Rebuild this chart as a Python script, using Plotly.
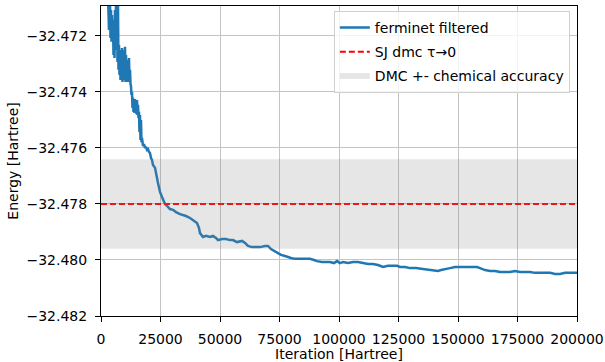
import plotly.graph_objects as go

# ---- data ----
iteration = [
    2100, 2940, 3360, 3780, 3990, 4200, 4410, 4620, 4830, 5040, 5250, 5460, 5670, 5880, 6090,
    6300, 6510, 6720, 6930, 7140, 7350, 7560, 7770, 7980, 8190, 8400, 8610, 8820, 9030, 9240,
    9450, 9660, 9870, 10080, 10290, 10500, 10710, 10920, 11130, 11340, 11550, 11760, 11970,
    12180, 12390, 12600, 12810, 13020, 13230, 13440, 13650, 13860, 14070, 14280, 14490, 14700,
    14910, 15120, 15330, 15540, 15750, 15960, 16170, 16380, 16590, 16800, 17010, 17220, 17650,
    18070, 18490, 18910, 19330, 19750, 20170, 20590, 21010, 21430, 21850,
    22690, 23950, 24790, 25630, 26890, 27730, 28990, 30250, 31510, 33200, 34460, 35720, 37400,
    38660, 40340, 41180, 41600, 42860, 44120, 45800, 47060, 48320, 49160, 50840, 52520, 54210,
    55470, 57150, 58410, 59250, 60510, 61770, 63450, 65130, 66810, 68910, 70170, 71430, 72690,
    73960, 75640, 77320, 78160, 79840, 81520, 83620, 85720, 87820, 89500, 90760, 92860, 94540,
    96230, 97910, 99170, 100430, 101690, 103790, 105890, 107990, 110090, 112190, 114290,
    116400, 118500, 120600, 122700, 124380, 125640, 127740, 129840, 132360, 135300, 138240,
    140350, 141610, 142870, 144550, 146650, 148750, 150850, 152950, 155050, 157990, 159260,
    161360, 163460, 165560, 167660, 169760, 171860, 173960, 176060, 178160, 180260, 182370,
    184470, 186570, 188670, 190770, 192870, 194970, 197070, 200000,
]
energy = [
    -32.46929, -32.47054, -32.47179, -32.47079, -32.47207, -32.47107, -32.47221, -32.47125,
    -32.47196, -32.47161, -32.47268, -32.47143, -32.47279, -32.47107, -32.47250, -32.47071,
    -32.47214, -32.47054, -32.47293, -32.47089, -32.47321, -32.47232, -32.47339, -32.47250,
    -32.47357, -32.47268, -32.47350, -32.47243, -32.47364, -32.47286, -32.47357, -32.47250,
    -32.47350, -32.47239, -32.47364, -32.47268, -32.47357, -32.47286, -32.47364, -32.47293,
    -32.47350, -32.47279, -32.47364, -32.47321, -32.47371, -32.47379, -32.47411, -32.47400,
    -32.47457, -32.47421, -32.47471, -32.47429, -32.47475, -32.47425, -32.47471, -32.47436,
    -32.47479, -32.47429, -32.47482, -32.47446, -32.47493, -32.47471, -32.47543, -32.47482,
    -32.47571, -32.47500, -32.47579, -32.47564, -32.47593, -32.47586, -32.47600, -32.47596,
    -32.47607, -32.47604, -32.47614, -32.47618, -32.47636, -32.47643, -32.47661,
    -32.47671, -32.47725, -32.47757, -32.47775, -32.47800, -32.47807, -32.47818, -32.47821,
    -32.47829, -32.47836, -32.47839, -32.47843, -32.47850, -32.47857, -32.47868, -32.47886,
    -32.47904, -32.47918, -32.47914, -32.47918, -32.47914, -32.47921, -32.47929, -32.47925,
    -32.47925, -32.47929, -32.47929, -32.47936, -32.47932, -32.47932, -32.47939, -32.47950,
    -32.47954, -32.47954, -32.47954, -32.47950, -32.47950, -32.47961, -32.47968, -32.47975,
    -32.47982, -32.47986, -32.47989, -32.47993, -32.47996, -32.47996, -32.47996, -32.47996,
    -32.48000, -32.48004, -32.48007, -32.48007, -32.48007, -32.48011, -32.48004, -32.48011,
    -32.48007, -32.48011, -32.48007, -32.48007, -32.48011, -32.48014, -32.48014, -32.48018,
    -32.48025, -32.48021, -32.48021, -32.48021, -32.48025, -32.48025, -32.48029, -32.48029,
    -32.48032, -32.48036, -32.48039, -32.48039, -32.48036, -32.48032, -32.48029, -32.48025,
    -32.48025, -32.48025, -32.48025, -32.48025, -32.48029, -32.48036, -32.48039, -32.48039,
    -32.48043, -32.48043, -32.48043, -32.48039, -32.48043, -32.48043, -32.48043, -32.48046,
    -32.48046, -32.48046, -32.48046, -32.48050, -32.48050, -32.48046, -32.48046, -32.48046,
]

dmc_energy = -32.478
chem_accuracy = 0.0016
x_span = [0, 200000]

x_ticks = [0, 25000, 50000, 75000, 100000, 125000, 150000, 175000, 200000]
x_tick_labels = ["0", "25000", "50000", "75000", "100000", "125000", "150000", "175000", "200000"]
y_ticks = [-32.482, -32.480, -32.478, -32.476, -32.474, -32.472]
y_tick_labels = ["\u221232.482", "\u221232.480", "\u221232.478", "\u221232.476", "\u221232.474", "\u221232.472"]

FONT = "DejaVu Sans"
FS = 14

fig = go.Figure()

fig.add_trace(go.Scatter(
    x=iteration, y=energy, mode="lines", name="ferminet filtered", legendgroup="a",
    line=dict(color="#1f77b4", width=2.5),
))
fig.add_trace(go.Scatter(
    x=x_span, y=[dmc_energy, dmc_energy], mode="lines", name="SJ dmc \u03c4\u21920", legendgroup="b",
    line=dict(color="#ff0000", width=2, dash="6px,3px"),
))
fig.add_trace(go.Scatter(
    x=[x_span[0], x_span[1], x_span[1], x_span[0], x_span[0]],
    y=[dmc_energy - chem_accuracy, dmc_energy - chem_accuracy,
       dmc_energy + chem_accuracy, dmc_energy + chem_accuracy, dmc_energy - chem_accuracy],
    mode="none", fill="toself", fillcolor="rgba(128,128,128,0.2)",
    name="DMC +- chemical accuracy", legendgroup="c",
))

axis_common = dict(
    showline=True, mirror=True, linecolor="black", linewidth=1,
    ticks="outside", ticklen=5, tickcolor="black", tickwidth=1,
    showgrid=True, gridcolor="#c4c4c4", gridwidth=1, zeroline=False,
    tickfont=dict(family=FONT, size=FS, color="black"), automargin=False,
)

fig.update_layout(
    width=605, height=362,
    margin=dict(l=101, r=28, t=6, b=46),
    paper_bgcolor="white", plot_bgcolor="white",
    font=dict(family=FONT, size=FS, color="black"),
    showlegend=True,
    legend=dict(
        x=0.985, y=0.984, xanchor="right", yanchor="top",
        bgcolor="rgba(255,255,255,0.8)", bordercolor="#d0d0d0", borderwidth=1,
        font=dict(family=FONT, size=FS), itemwidth=30, tracegroupgap=3,
    ),
    xaxis=dict(
        range=x_span, tickvals=x_ticks, ticktext=x_tick_labels, ticklabelstandoff=5,
        title=dict(text="Iteration [Hartree]", font=dict(family=FONT, size=FS), standoff=0),
        **axis_common,
    ),
    yaxis=dict(
        range=[-32.482, -32.47093], tickvals=y_ticks, ticktext=y_tick_labels, ticklabelstandoff=5,
        title=dict(text="Energy [Hartree]", font=dict(family=FONT, size=FS), standoff=4),
        **axis_common,
    ),
)

fig.write_html("out.html")
